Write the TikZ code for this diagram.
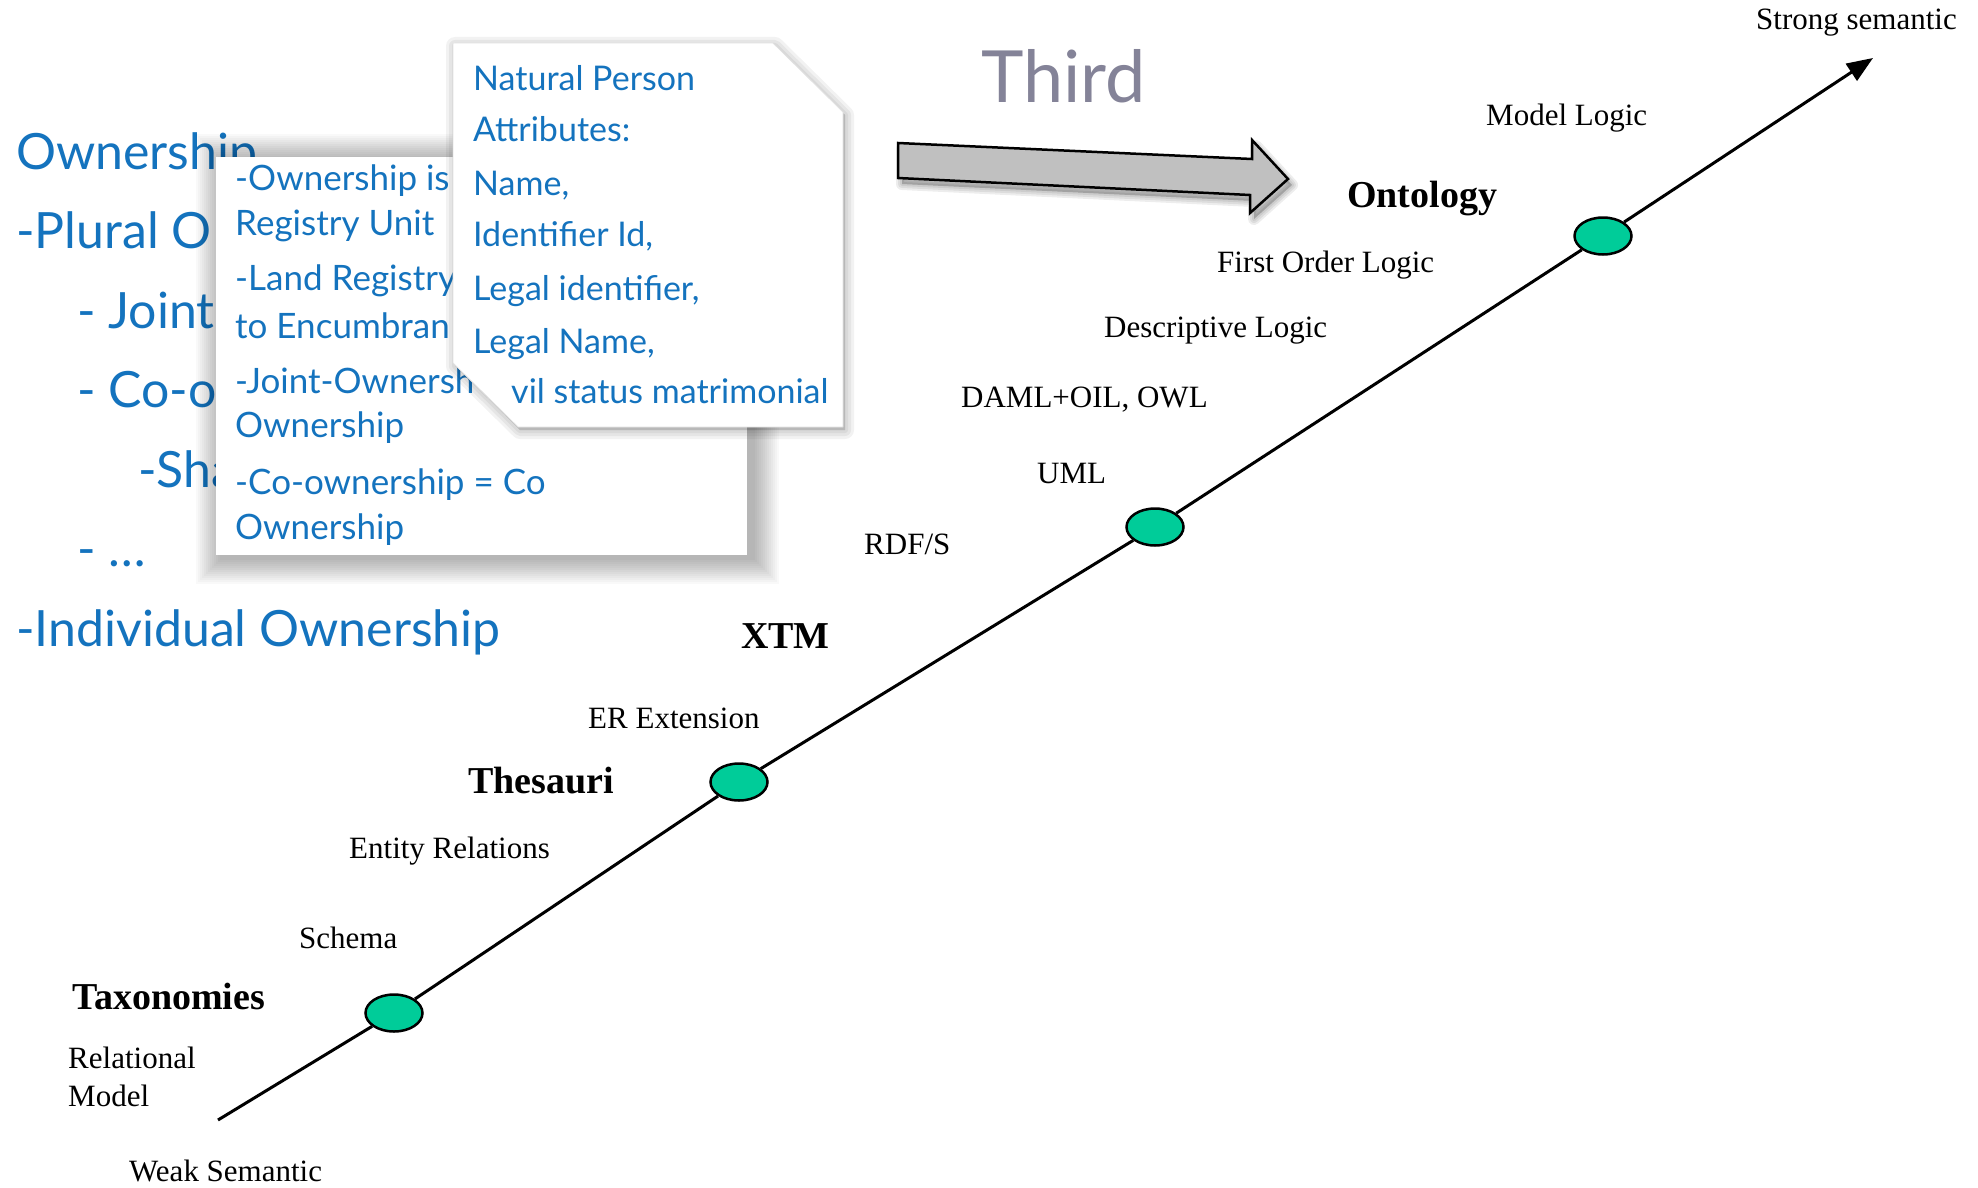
\documentclass[tikz,border=0pt]{standalone}
\usepackage{fontspec}
\setmainfont{Liberation Serif}
\newfontfamily\slidefont{Lato}
\usetikzlibrary{arrows.meta,shapes.geometric}

\definecolor{slideblue}{RGB}{20,115,190}
\definecolor{thirdgray}{RGB}{132,131,152}
\definecolor{stagefill}{RGB}{0,204,153}
\definecolor{arrowgray}{RGB}{192,192,192}

\tikzset{
  lbl/.style={anchor=base west, inner sep=0pt, font=\fontsize{31}{36}\selectfont},
  stagelbl/.style={anchor=base west, inner sep=0pt, font=\fontsize{38}{44}\selectfont\bfseries},
  slidebig/.style={anchor=base west, inner sep=0pt, text=slideblue, font=\slidefont\fontsize{50}{60}\selectfont},
  slidemid/.style={anchor=base west, inner sep=0pt, text=slideblue, font=\slidefont\fontsize{35}{42}\selectfont},
  slidesmall/.style={anchor=base west, inner sep=0pt, text=slideblue, font=\slidefont\fontsize{34}{40}\selectfont},
  stagedot/.style={ellipse, draw=black, line width=2.5pt, fill=stagefill,
    minimum width=57pt, minimum height=37pt, inner sep=0pt},
  axis/.style={line width=3pt, draw=black}
}

\begin{document}
\begin{tikzpicture}[x=1pt,y=-1pt]
\useasboundingbox (0,0) rectangle (1978,1188);
\fill[white] (0,0) rectangle (1978,1188);

% ---- background slide: ownership list ----
\node[slidebig] (own1) at (16,169) {Ownership};
\node[slidebig] (own2) at (16,248) {-Plural O};
\node[slidebig] (own3) at (77,328) {- Joint-};
\node[slidebig] (own4) at (77,407) {- Co-o};
\node[slidebig] (own5) at (138,487) {-Sha};
\node[slidebig] (own6) at (77,566) {- \dots};
\node[slidebig] (own7) at (16,646) {-Individual Ownership};

% ---- ownership popup ----
\foreach \r in {2,4,...,26}
  \fill[black,opacity=0.024] (222-\r,160-\r) rectangle (753+\r,558+\r);
\fill[white] (216,157) rectangle (747,555);
\node[slidemid] (mid1) at (235,190) {-Ownership is};
\node[slidemid] (mid2) at (235,235) {Registry Unit};
\node[slidemid] (mid3) at (235,290) {-Land Registry};
\node[slidemid] (mid4) at (235,338) {to Encumbran};
\node[slidemid] (mid5) at (235,393) {-Joint-Ownersh};
\node[slidemid] (mid6) at (235,437) {Ownership};
\node[slidemid] (mid7) at (235,494) {-Co-ownership = Co};
\node[slidemid] (mid8) at (235,539) {Ownership};

% ---- natural person card ----
\foreach \w in {18,12,6}
  \filldraw[black,opacity=0.05,line width=\w pt,line join=round]
    (455,46) -- (775,46) -- (845,115) -- (845,430) -- (520,430) -- (455,366) -- cycle;
\fill[white] (453,43) -- (773,43) -- (843,112) -- (843,427) -- (518,427) -- (453,363) -- cycle;
\draw[black!12,line width=0.8pt] (453,43) -- (773,43) -- (843,112) -- (843,427) -- (518,427) -- (453,363) -- cycle;
\node[slidesmall] (np1) at (473,91) {Natural Person};
\node[slidesmall] (np2) at (473,142) {Attributes:};
\node[slidesmall] (np3) at (473,195) {Name,};
\node[slidesmall] (np4) at (473,246) {Identifier Id,};
\node[slidesmall] (np5) at (473,300) {Legal identifier,};
\node[slidesmall] (np6) at (473,353) {Legal Name,};
\node[slidesmall] (np7) at (511,403) {vil status matrimonial};

% ---- "Third" title and block arrow ----
\node[anchor=base west, inner sep=0pt, text=thirdgray, font=\slidefont\fontsize{72}{80}\selectfont]
  (third) at (981,103) {Third};
\foreach \w in {12,8,4}
  \filldraw[black,opacity=0.07,line width=\w pt,line join=round]
    (902,149) -- (1256,165) -- (1256,146) -- (1292,185) -- (1254,219) -- (1254,201) -- (902,184) -- cycle;
\filldraw[fill=arrowgray, draw=black, line width=2.5pt, line join=miter]
  (898,143) -- (1252,159) -- (1252,140) -- (1288,179) -- (1250,213) -- (1250,195) -- (898,178) -- cycle;

% ---- semantic axis ----
\coordinate (weakend) at (218,1120);
\coordinate (strongend) at (1873,58);
\node[stagedot] (e1) at (394,1013) {};
\node[stagedot] (e2) at (739,782) {};
\node[stagedot] (e3) at (1155,527) {};
\node[stagedot] (e4) at (1603,236) {};
\draw[axis] (weakend) -- (e1);
\draw[axis] (e1) -- (e2);
\draw[axis] (e2) -- (e3);
\draw[axis] (e3) -- (e4);
\draw[axis,-{Triangle[length=26pt,width=20pt]}] (e4) -- (strongend);

% ---- axis labels ----
\node[lbl] (strong) at (1756,30) {Strong semantic};
\node[lbl] (modellogic) at (1486,125) {Model Logic};
\node[stagelbl] (ontology) at (1347,207) {Ontology};
\node[lbl] (fol) at (1217,272) {First Order Logic};
\node[lbl] (dl) at (1104,337) {Descriptive Logic};
\node[lbl] (daml) at (961,407) {DAML+OIL, OWL};
\node[lbl] (uml) at (1037,483) {UML};
\node[lbl] (rdfs) at (864,554) {RDF/S};
\node[stagelbl] (xtm) at (741,648) {XTM};
\node[lbl] (erext) at (588,728) {ER Extension};
\node[stagelbl] (thesauri) at (468,793) {Thesauri};
\node[lbl] (entrel) at (349,858) {Entity Relations};
\node[lbl] (schema) at (299,948) {Schema};
\node[stagelbl] (taxo) at (72,1009) {Taxonomies};
\node[lbl] (relmodel1) at (68,1068) {Relational};
\node[lbl] (relmodel2) at (68,1106) {Model};
\node[lbl] (weak) at (129,1181) {Weak Semantic};
\end{tikzpicture}
\end{document}
